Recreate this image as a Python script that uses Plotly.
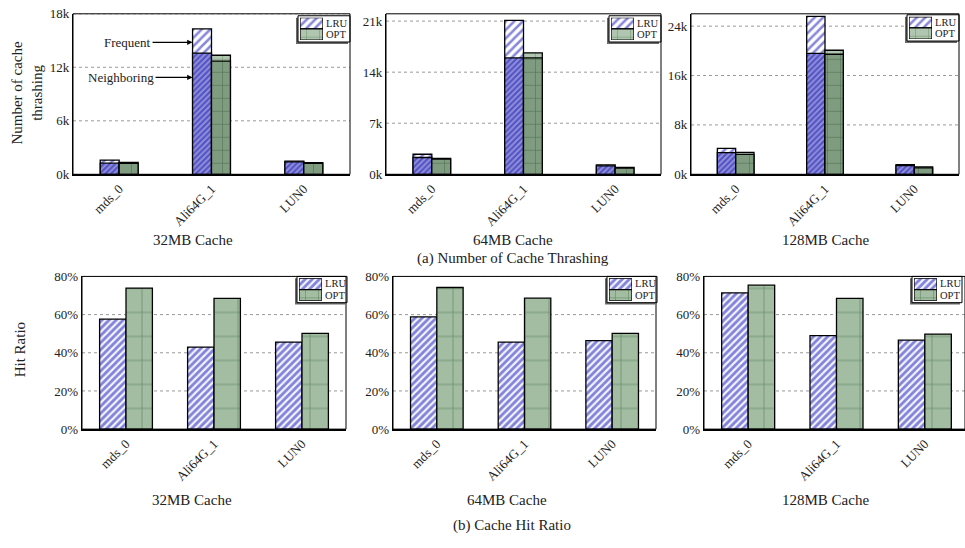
import plotly.graph_objects as go

W, H = 965, 548
FONT = "Liberation Serif, Times New Roman, serif"
TXT = "#222"

# ---------------- data ----------------
categories = ["mds_0", "Ali64G_1", "LUN0"]
cache_labels = ["32MB Cache", "64MB Cache", "128MB Cache"]
legend_labels = ["LRU", "OPT"]

# (a) number of cache thrashing: total bar height and the "Neighboring" part
lru_total_32 = [1600, 16300, 1480]
lru_neigh_32 = [1250, 13600, 1400]
opt_total_32 = [1320, 13350, 1310]
opt_neigh_32 = [1240, 12700, 1240]

lru_total_64 = [2750, 21100, 1300]
lru_neigh_64 = [2300, 15950, 1160]
opt_total_64 = [2180, 16650, 950]
opt_neigh_64 = [2090, 15950, 860]

lru_total_128 = [4200, 25600, 1560]
lru_neigh_128 = [3500, 19600, 1400]
opt_total_128 = [3560, 20100, 1190]
opt_neigh_128 = [3240, 19450, 1030]

# (b) cache hit ratio (%)
hit_lru_32 = [57.6, 43.0, 45.6]
hit_opt_32 = [73.9, 68.5, 50.2]
hit_lru_64 = [58.8, 45.6, 46.4]
hit_opt_64 = [74.2, 68.6, 50.2]
hit_lru_128 = [71.4, 49.0, 46.6]
hit_opt_128 = [75.4, 68.5, 49.8]

thrash_tickvals = [[0, 6000, 12000, 18000], [0, 7000, 14000, 21000], [0, 8000, 16000, 24000]]
thrash_ticktext = [["0k", "6k", "12k", "18k"], ["0k", "7k", "14k", "21k"], ["0k", "8k", "16k", "24k"]]
thrash_ymax = [18000, 22000, 26000]
hit_tickvals = [0, 20, 40, 60, 80]
hit_ticktext = ["0%", "20%", "40%", "60%", "80%"]

annot_frequent_y = 14800
annot_neighboring_y = 10870

# ---------------- layout geometry (pixels) ----------------
top_x = [(73, 350), (386, 661), (691, 959)]
top_y = (7, 172)
bot_x = [(82, 346), (393, 656), (704, 969)]
bot_y = (277, 434)
# legend boxes: left, top, width, height
legend_boxes = [(298, 9, 52, 27), (609, 9, 52, 27), (907, 8, 52, 27),
                (297, 277, 50, 27), (607, 277, 50, 27), (912, 277, 50, 27)]


def xd(a, b):
    return [max(0, a / W), min(1, b / W)]


def yd(a, b):
    return [1 - b / H, 1 - a / H]


BLUE = "#1010b4"
pat_lru_freq = dict(shape="/", fgcolor=BLUE, bgcolor="white", size=6, solidity=0.42)
pat_lru_neigh = dict(shape="/", fgcolor=BLUE, bgcolor="#9090d8", size=4, solidity=0.5)
pat_lru_hit = dict(shape="/", fgcolor=BLUE, bgcolor="#f4f4ff", size=5, solidity=0.56)
pat_opt_freq = dict(shape="+", fgcolor="#3c6a3c", bgcolor="#b0c6b0", size=13, solidity=0.09)
pat_opt_neigh = dict(shape="+", fgcolor="#1f4424", bgcolor="#7f9c80", size=13, solidity=0.09)
pat_opt_hit = dict(shape="+", fgcolor="#285428", bgcolor="#a2bda2", size=24, solidity=0.06)
pat_opt_hit_leg = dict(shape="+", fgcolor="#285428", bgcolor="#a2bda2", size=13, solidity=0.09)

fig = go.Figure()
w_top = 0.205
w_bot = 0.3

top_sets = [
    (lru_total_32, lru_neigh_32, opt_total_32, opt_neigh_32),
    (lru_total_64, lru_neigh_64, opt_total_64, opt_neigh_64),
    (lru_total_128, lru_neigh_128, opt_total_128, opt_neigh_128),
]
bot_sets = [(hit_lru_32, hit_opt_32), (hit_lru_64, hit_opt_64), (hit_lru_128, hit_opt_128)]

line = dict(color="black", width=1.3)

for i, (lt, ln, ot, on) in enumerate(top_sets):
    ax = "" if i == 0 else str(i + 1)
    common = dict(x=categories, xaxis="x" + ax, yaxis="y" + ax, showlegend=False)
    fig.add_trace(go.Bar(y=lt, name="LRU", offset=-w_top, width=w_top,
                         marker=dict(pattern=pat_lru_freq, line=line), **common))
    fig.add_trace(go.Bar(y=ln, name="LRU", offset=-w_top, width=w_top,
                         marker=dict(pattern=pat_lru_neigh, line=line), **common))
    fig.add_trace(go.Bar(y=ot, name="OPT", offset=0, width=w_top,
                         marker=dict(pattern=pat_opt_freq, line=line), **common))
    fig.add_trace(go.Bar(y=on, name="OPT", offset=0, width=w_top,
                         marker=dict(pattern=pat_opt_neigh, line=line), **common))

for i, (lh, oh) in enumerate(bot_sets):
    ax = str(i + 4)
    common = dict(x=categories, xaxis="x" + ax, yaxis="y" + ax, showlegend=False)
    fig.add_trace(go.Bar(y=lh, name="LRU", offset=-w_bot, width=w_bot,
                         marker=dict(pattern=pat_lru_hit, line=line), **common))
    fig.add_trace(go.Bar(y=oh, name="OPT", offset=0, width=w_bot,
                         marker=dict(pattern=pat_opt_hit, line=line), **common))

# legend swatches drawn as tiny bar charts inside each legend box
for k in range(6):
    n = str(k + 7)
    pats = (pat_lru_freq, pat_opt_freq) if k < 3 else (pat_lru_hit, pat_opt_hit_leg)
    for lab, pat in zip(legend_labels, pats):
        fig.add_trace(go.Bar(y=[lab], x=[1], orientation="h", width=1, base=0,
                             xaxis="x" + n, yaxis="y" + n, showlegend=False, hoverinfo="skip",
                             marker=dict(pattern=pat, line=dict(color="black", width=1.3))))

tickfont = dict(family=FONT, size=13, color=TXT)
layout = dict(
    width=W, height=H, margin=dict(l=0, r=0, t=0, b=0),
    barmode="overlay", paper_bgcolor="white", plot_bgcolor="rgba(0,0,0,0)",
    font=dict(family=FONT, size=13, color=TXT), shapes=[], annotations=[], showlegend=False,
)


def xaxis_cfg(dom, rng, anchor):
    return dict(domain=dom, range=rng, type="category", tickangle=-45, tickfont=tickfont,
                showline=True, linecolor="black", linewidth=2, ticks="", showgrid=False,
                fixedrange=True, anchor=anchor)


def yaxis_cfg(dom, rng, anchor, tv, tt):
    return dict(domain=dom, range=rng, anchor=anchor, tickfont=tickfont, showline=True,
                linecolor="black", linewidth=1.2, ticks="", showgrid=False, zeroline=False,
                fixedrange=True, tickvals=tv, ticktext=tt)


ann = layout["annotations"]
shapes = layout["shapes"]

panels = []
for i in range(3):
    panels.append((top_x[i], top_y, [0, thrash_ymax[i]], thrash_tickvals[i], thrash_ticktext[i]))
for i in range(3):
    panels.append((bot_x[i], bot_y, [0, 80], hit_tickvals, hit_ticktext))

for i, ((a, b), (t, btm), yr, tv, tt) in enumerate(panels):
    n = "" if i == 0 else str(i + 1)
    rng_hi = -0.5 + 3 * (min(b, W) - a) / (b - a)
    layout["xaxis" + n] = xaxis_cfg(xd(a, b), [-0.5, rng_hi], "y" + n)
    layout["yaxis" + n] = yaxis_cfg(yd(t, btm), yr, "x" + n, tv, tt)
    xr, yr_ = "x%s domain" % n, "y%s domain" % n
    # dotted gridlines (below everything in this panel)
    for v in tv[1:]:
        shapes.append(dict(type="line", xref=xr, yref="y" + n, x0=0, x1=1, y0=v, y1=v,
                           line=dict(color="#9a9a9a", width=1, dash="dot"), layer="below"))
    # legend box with shadow
    lx, ly, lw, lh = legend_boxes[i]
    pw = min(b, W) - a
    ph = btm - t

    def fx(px):
        return (px - a) / pw

    def fy(py):
        return 1 - (py - t) / ph

    shapes.append(dict(type="rect", xref=xr, yref=yr_, x0=fx(lx - 2), x1=fx(lx + lw - 2),
                       y0=fy(ly + lh + 2), y1=fy(ly + 2), fillcolor="#6a6a6a",
                       line=dict(width=0), layer="below"))
    shapes.append(dict(type="rect", xref=xr, yref=yr_, x0=fx(lx), x1=fx(lx + lw),
                       y0=fy(ly + lh), y1=fy(ly), fillcolor="white",
                       line=dict(color="black", width=1), layer="below"))
    # panel frame
    shapes.append(dict(type="rect", xref=xr, yref=yr_, x0=0, x1=1, y0=0, y1=1,
                       line=dict(color="black", width=1), layer="above"))
    # legend swatch axes
    m = str(i + 7)
    layout["xaxis" + m] = dict(domain=xd(lx + 2, lx + 25), range=[0, 1], anchor="y" + m,
                               visible=False, fixedrange=True)
    layout["yaxis" + m] = dict(domain=yd(ly + 2, ly + lh - 2), range=[-0.5, 1.5], anchor="x" + m,
                               type="category", categoryorder="array",
                               categoryarray=legend_labels[::-1], visible=False, fixedrange=True)
    half = (lh - 4) / 2
    for j, lab in enumerate(legend_labels):
        ann.append(dict(text=lab, x=(lx + 27) / W, y=1 - (ly + 2 + half * (j + 0.5)) / H,
                        xref="paper", yref="paper", xanchor="left", yanchor="middle",
                        showarrow=False, borderpad=0,
                        font=dict(family=FONT, size=10.5, color=TXT)))

# panel subtitles
for i, lab in enumerate(cache_labels):
    ann.append(dict(text=lab, x=[193, 513, 825][i] / W, y=1 - 240 / H, xref="paper", yref="paper",
                    xanchor="center", yanchor="middle", showarrow=False,
                    font=dict(family=FONT, size=15, color=TXT)))
    ann.append(dict(text=lab, x=[192, 507, 825][i] / W, y=1 - 507 / H, xref="paper", yref="paper",
                    xanchor="center", yanchor="middle", showarrow=False,
                    font=dict(family=FONT, size=15, color=TXT)))
ann.append(dict(text="(a) Number of Cache Thrashing", x=513 / W, y=1 - 259 / H, xref="paper",
                yref="paper", xanchor="center", yanchor="middle", showarrow=False,
                font=dict(family=FONT, size=15, color=TXT)))
ann.append(dict(text="(b) Cache Hit Ratio", x=512 / W, y=1 - 533 / H, xref="paper",
                yref="paper", xanchor="center", yanchor="middle", showarrow=False,
                font=dict(family=FONT, size=15, color=TXT)))
ann.append(dict(text="Number of cache<br>thrashing", x=27 / W, y=1 - 88 / H, xref="paper",
                yref="paper", xanchor="center", yanchor="middle", showarrow=False, textangle=-90,
                font=dict(family=FONT, size=15, color=TXT)))
ann.append(dict(text="Hit Ratio", x=20 / W, y=1 - 353 / H, xref="paper",
                yref="paper", xanchor="center", yanchor="middle", showarrow=False, textangle=-90,
                font=dict(family=FONT, size=15, color=TXT)))
# arrows
ann.append(dict(text="Frequent", x=1 - w_top, y=annot_frequent_y, xref="x", yref="y",
                showarrow=True, ax=-40, ay=0, xanchor="right", yanchor="middle", arrowhead=2,
                arrowsize=0.9, arrowwidth=1.2, arrowcolor="black",
                font=dict(family=FONT, size=13, color=TXT)))
ann.append(dict(text="Neighboring", x=1 - w_top, y=annot_neighboring_y, xref="x", yref="y",
                showarrow=True, ax=-37, ay=0, xanchor="right", yanchor="middle", arrowhead=2,
                arrowsize=0.9, arrowwidth=1.2, arrowcolor="black",
                font=dict(family=FONT, size=13, color=TXT)))

fig.update_layout(**layout)
fig.write_html("out.html", config={"displayModeBar": False, "staticPlot": True},
               post_script="document.body.style.margin='0';document.body.style.overflow='hidden';")
